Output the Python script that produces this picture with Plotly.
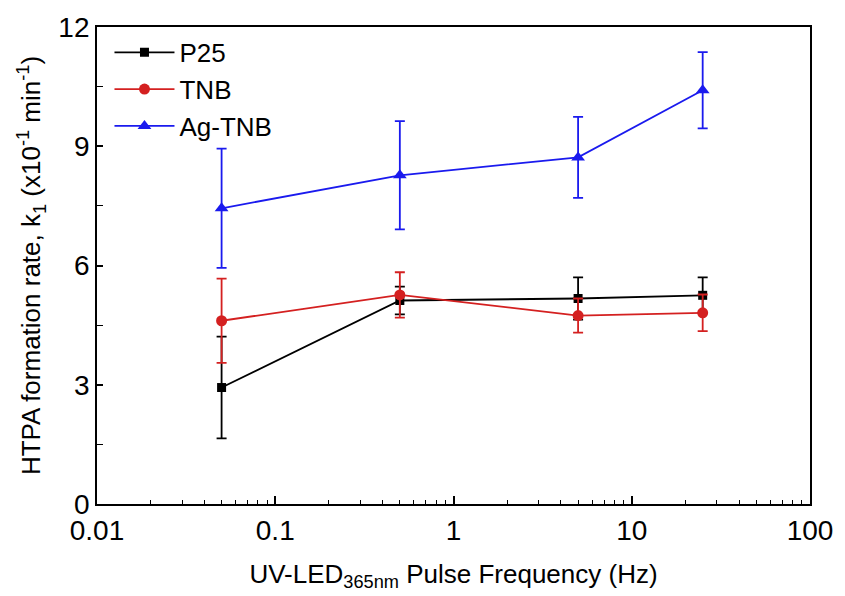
import plotly.graph_objects as go

freq = [0.05, 0.5, 5, 25]

p25 = [2.93, 5.12, 5.17, 5.25]
p25_err = [1.28, 0.35, 0.53, 0.45]

tnb = [4.61, 5.26, 4.74, 4.81]
tnb_err = [1.06, 0.57, 0.43, 0.46]

agtnb = [7.44, 8.27, 8.72, 10.41]
agtnb_err = [1.5, 1.36, 1.02, 0.96]

series = [
    ("P25", p25, p25_err, "#000000", "square", 9),
    ("TNB", tnb, tnb_err, "#d42020", "circle", 11),
    ("Ag-TNB", agtnb, agtnb_err, "#1a1aee", "triangle-up", 12),
]

FONT = "Liberation Sans, Arial, sans-serif"

fig = go.Figure()
for name, y, err, col, sym, sz in series:
    fig.add_trace(go.Scatter(
        x=freq, y=y, name=name, mode="lines+markers",
        line=dict(color=col, width=1.8),
        marker=dict(symbol=sym, size=sz, color=col),
        error_y=dict(type="data", array=err, visible=True, color=col,
                     thickness=1.8, width=5),
    ))

fig.update_layout(
    width=845, height=596,
    margin=dict(l=97, r=27, t=27, b=89),
    plot_bgcolor="white", paper_bgcolor="white",
    font=dict(family=FONT, size=26, color="black"),
    legend=dict(x=0.0175, y=0.996, xanchor="left", yanchor="top",
                bgcolor="rgba(0,0,0,0)", font=dict(size=26),
                itemwidth=60, tracegroupgap=0),
    showlegend=True,
)

fig.update_xaxes(
    type="log", range=[-2, 2],
    tickvals=[0.01, 0.1, 1, 10, 100], ticktext=["0.01", "0.1", "1", "10", "100"],
    ticks="inside", ticklen=8, tickwidth=1.5, tickcolor="black",
    minor=dict(ticks="inside", ticklen=4, tickwidth=1.2, tickcolor="black",
               tickvals=[m * 10 ** e for e in [-2, -1, 0, 1] for m in range(2, 10)]),
    showline=True, linecolor="black", linewidth=1.8, mirror=True,
    showgrid=False, zeroline=False,
    tickfont=dict(size=28),
    title=dict(text="UV-LED<sub>365nm</sub> Pulse Frequency (Hz)", font=dict(size=26), standoff=20),
)

fig.update_yaxes(
    range=[0, 12], tickvals=[0, 3, 6, 9, 12],
    ticks="inside", ticklen=6, tickwidth=1.5, tickcolor="black",
    minor=dict(ticks="inside", ticklen=6, tickwidth=1.2, tickcolor="black",
               tickvals=[1.5, 4.5, 7.5, 10.5]),
    showline=True, linecolor="black", linewidth=1.8, mirror=True,
    showgrid=False, zeroline=False,
    tickfont=dict(size=28),
    title=dict(text="HTPA formation rate, k<sub>1</sub> (x10<sup>-1</sup> min<sup>-1</sup>)",
               font=dict(size=26), standoff=10),
)

fig.write_html(
    "out.html",
    config={"displayModeBar": False},
    post_script="document.body.style.margin='0';document.body.style.overflow='hidden';",
)
